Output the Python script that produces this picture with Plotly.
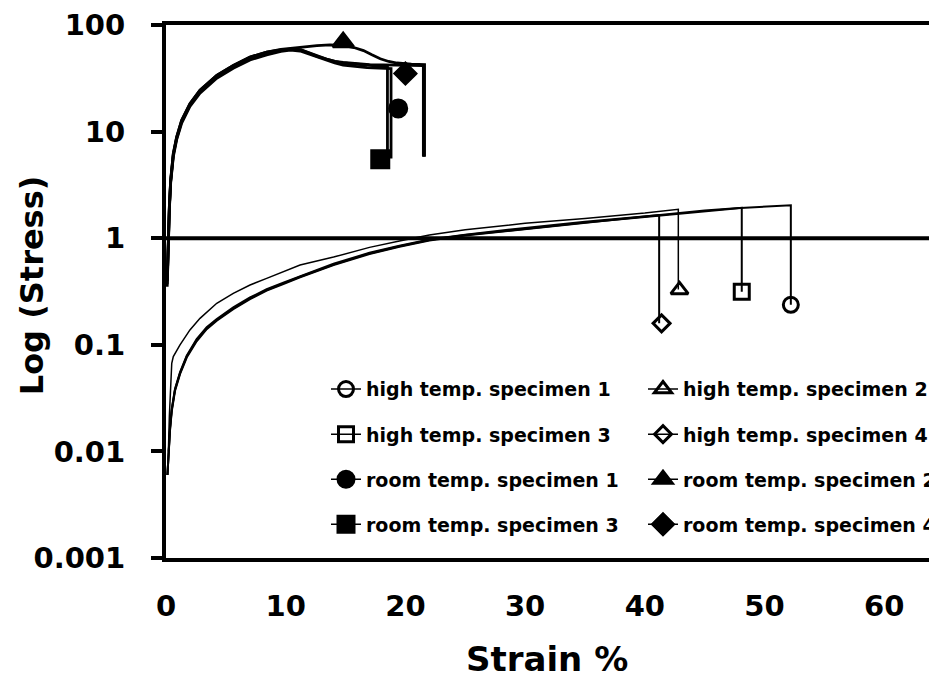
import plotly.graph_objects as go

# ---------------- data ----------------
# high temperature specimens (strain %, stress)
h1_strain = [0.12, 0.19, 0.33, 0.48, 0.75, 1.17, 1.73, 2.56, 3.4, 4.24, 5.62, 7.02, 8.41, 9.8, 11.2, 14, 17, 19.5, 22, 25, 30, 35, 40, 45, 48, 52.2, 52.2]
h1_stress = [0.006, 0.009, 0.016, 0.0245, 0.0378, 0.0542, 0.0776, 0.111, 0.143, 0.171, 0.22, 0.273, 0.327, 0.377, 0.435, 0.565, 0.72, 0.84, 0.96, 1.07, 1.23, 1.40, 1.58, 1.80, 1.92, 2.04, 0.237]
h2_strain = [0.2, 0.28, 0.48, 0.61, 1.17, 2.0, 2.84, 4.24, 5.62, 7.02, 8.41, 9.8, 11.2, 14, 17, 19.5, 22, 25, 30, 35, 40, 42.8, 42.8]
h2_stress = [0.01, 0.0213, 0.067, 0.0776, 0.0998, 0.138, 0.177, 0.245, 0.304, 0.364, 0.42, 0.485, 0.56, 0.665, 0.82, 0.94, 1.07, 1.2, 1.38, 1.53, 1.72, 1.87, 0.33]
h3_strain = [0.12, 0.19, 0.33, 0.48, 0.75, 1.17, 1.73, 2.56, 3.4, 4.24, 5.62, 7.02, 8.41, 9.8, 11.2, 14, 17, 19.5, 22, 25, 30, 35, 40, 45, 48.1, 48.1]
h3_stress = [0.006, 0.0087, 0.0155, 0.0238, 0.0368, 0.0530, 0.0760, 0.108, 0.140, 0.168, 0.216, 0.268, 0.322, 0.372, 0.43, 0.56, 0.71, 0.83, 0.95, 1.06, 1.22, 1.39, 1.60, 1.82, 1.93, 0.315]
h4_strain = [0.12, 0.19, 0.33, 0.48, 0.75, 1.17, 1.73, 2.56, 3.4, 4.24, 5.62, 7.02, 8.41, 9.8, 11.2, 14, 17, 19.5, 22, 25, 30, 35, 41.2, 41.2]
h4_stress = [0.006, 0.0092, 0.0165, 0.025, 0.0385, 0.0552, 0.079, 0.113, 0.146, 0.174, 0.224, 0.278, 0.332, 0.382, 0.44, 0.575, 0.73, 0.85, 0.97, 1.08, 1.25, 1.43, 1.65, 0.159]

# room temperature specimens
r1_strain = [0.1, 0.19, 0.28, 0.39, 0.61, 0.89, 1.31, 2.0, 2.84, 4.24, 5.62, 7.02, 8.41, 9.6, 10.4, 11.2, 12.0, 12.7, 13.4, 14.1, 14.8, 16.8, 18.8, 18.8]
r1_stress = [0.35, 0.97, 1.85, 3.3, 5.8, 8.4, 12.0, 17.2, 22.9, 31.7, 39.3, 47, 52.5, 56.5, 58, 57, 53, 49.5, 46.5, 44, 42, 39.8, 39, 5.6]
r2_strain = [0.1, 0.19, 0.28, 0.39, 0.61, 0.89, 1.31, 2.0, 2.84, 4.24, 5.62, 7.02, 8.41, 9.6, 10.4, 11.5, 12.6, 13.7, 14.8, 15.7, 16.5, 17.2, 17.9, 18.6, 19.3, 20.5, 21.6, 21.6]
r2_stress = [0.4, 1.03, 1.97, 3.5, 6.2, 8.9, 12.8, 18.3, 24.4, 33.7, 41.8, 50, 55.6, 59, 60.5, 62.5, 64, 65, 64.5, 61.5, 57.5, 52.5, 48.2, 45.5, 44, 43, 42.6, 5.8]
r3_strain = [0.1, 0.19, 0.28, 0.39, 0.61, 0.89, 1.31, 2.0, 2.84, 4.24, 5.62, 7.02, 8.41, 9.6, 10.6, 11.3, 12.0, 12.7, 13.4, 14.1, 14.8, 16.8, 18.5, 18.5]
r3_stress = [0.4, 1.03, 1.97, 3.5, 6.2, 8.9, 12.8, 18.3, 24.4, 33.7, 41.8, 50, 55.6, 58.5, 59.8, 58, 54, 50.5, 48, 45.5, 44, 41.8, 40.5, 5.5]
r4_strain = [0.1, 0.19, 0.28, 0.39, 0.61, 0.89, 1.31, 2.0, 2.84, 4.24, 5.62, 7.02, 8.41, 9.6, 10.5, 11.3, 12.0, 12.7, 13.4, 14.1, 14.8, 17, 19.5, 21.5, 21.5]
r4_stress = [0.37, 1.0, 1.9, 3.4, 6.0, 8.6, 12.4, 17.7, 23.6, 32.7, 40.5, 48.5, 54, 57.5, 59.5, 58.5, 54.5, 51, 48, 45.5, 44.5, 42.5, 41.8, 41.5, 5.8]

# marker positions (strain, stress)
h1_marker = (52.2, 0.237)
h2_marker = (42.9, 0.327)
h3_marker = (48.1, 0.315)
h4_marker = (41.4, 0.159)
r1_marker = (19.4, 16.5)
r2_marker = (14.8, 69)
r3_marker = (17.9, 5.5)
r4_marker = (20.0, 35)

names = ["high temp. specimen 1", "high temp. specimen 2", "high temp. specimen 3", "high temp. specimen 4",
         "room temp. specimen 1", "room temp. specimen 2", "room temp. specimen 3", "room temp. specimen 4"]

y_tickvals = [0.001, 0.01, 0.1, 1, 10, 100]
y_ticktext = ["0.001", "0.01", "0.1", "1", "10", "100"]
x_tickvals = [0, 10, 20, 30, 40, 50, 60]

# ---------------- figure ----------------
FONT = "DejaVu Sans"
fig = go.Figure()

series = [
    (names[0], h1_strain, h1_stress, h1_marker, "circle-open", 15, 2.0, "legend"),
    (names[2], h3_strain, h3_stress, h3_marker, "square-open", 15, 2.0, "legend"),
    (names[4], r1_strain, r1_stress, r1_marker, "circle", 17, 2.8, "legend"),
    (names[6], r3_strain, r3_stress, r3_marker, "square", 17, 2.8, "legend"),
    (names[1], h2_strain, h2_stress, h2_marker, "triangle-up-open", 15, 1.5, "legend2"),
    (names[3], h4_strain, h4_stress, h4_marker, "diamond-open", 13, 2.0, "legend2"),
    (names[5], r2_strain, r2_stress, r2_marker, "triangle-up", 18, 2.8, "legend2"),
    (names[7], r4_strain, r4_stress, r4_marker, "diamond", 16, 2.8, "legend2"),
]

for name, xs, ys, mk, sym, msize, lw, leg in series:
    fig.add_trace(go.Scatter(
        x=xs, y=ys, mode="lines", line=dict(color="black", width=lw),
        legendgroup=name, showlegend=False, legend=leg, hoverinfo="skip"))
for name, xs, ys, mk, sym, msize, lw, leg in series:
    fig.add_trace(go.Scatter(
        x=[mk[0]], y=[mk[1]], mode="lines+markers", name=name,
        line=dict(color="black", width=1.5),
        marker=dict(symbol=sym, size=msize, color="black",
                    line=dict(color="black", width=3)),
        legendgroup=name, legend=leg))

# page body adds an 8px offset; positions below are in figure pixels
W, H = 937, 683
L, R, T, B = 158, 0, 16.5, 133
PW = W - L - R
PB = H - B            # plot bottom in figure px
PH = PB - T


def px(fx):
    return (fx - L) / PW


def py(fy):
    return (PB - fy) / PH


LEG_FONT = dict(family=FONT, size=19, weight="bold", color="black")

fig.update_layout(
    width=W, height=H,
    margin=dict(l=L, r=R, t=T, b=B, pad=0),
    paper_bgcolor="white", plot_bgcolor="white",
    font=dict(family=FONT, color="black"),
    showlegend=True,
    legend=dict(x=px(318), y=py(362), xanchor="left", yanchor="top", font=LEG_FONT,
                bgcolor="rgba(0,0,0,0)", tracegroupgap=17.4, itemwidth=30),
    legend2=dict(x=px(635), y=py(362), xanchor="left", yanchor="top", font=LEG_FONT,
                 bgcolor="rgba(0,0,0,0)", tracegroupgap=17.4, itemwidth=30),
    xaxis=dict(range=[0, PW / 11.97], tickvals=x_tickvals, showgrid=False, zeroline=False,
               showline=True, linewidth=4, linecolor="black", mirror=True,
               ticks="", ticklabelstandoff=19,
               tickfont=dict(family=FONT, size=29, weight="bold", color="black")),
    yaxis=dict(type="log", range=[-3, 2], tickvals=y_tickvals, ticktext=y_ticktext,
               showgrid=False, zeroline=False, showline=True, linewidth=4, linecolor="black",
               ticks="outside", ticklen=11, tickwidth=4, tickcolor="black", ticklabelstandoff=20,
               tickfont=dict(family=FONT, size=29, weight="bold", color="black")),
    shapes=[dict(type="line", xref="paper", x0=0, x1=1, yref="y", y0=1, y1=1,
                 line=dict(color="black", width=4), layer="below")],
    annotations=[
        dict(text="Log (Stress)", textangle=-90, xref="paper", yref="paper",
             x=px(24), y=py(277), xanchor="center", yanchor="middle",
             showarrow=False, font=dict(family=FONT, size=32, weight="bold", color="black")),
        dict(text="Strain %", xref="paper", yref="paper",
             x=px(539), y=py(651), xanchor="center", yanchor="middle",
             showarrow=False, font=dict(family=FONT, size=34, weight="bold", color="black")),
    ],
)

fig.write_html("out.html")
